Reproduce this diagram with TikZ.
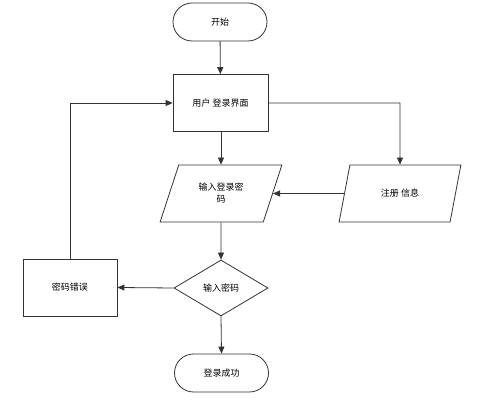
\documentclass[tikz,border=0pt]{standalone}
\usepackage{fontspec}
\newfontfamily\cjk{Noto Sans CJK SC}
\usetikzlibrary{shapes.geometric,arrows.meta}
\tikzset{
  base/.style={draw=black!80, line width=0.8pt, font=\cjk\fontsize{9}{12}\selectfont, align=center, inner sep=0pt},
  term/.style={base, rectangle, rounded corners=19pt, minimum width=94pt, minimum height=38pt},
  proc/.style={base, rectangle, minimum width=95pt, minimum height=57pt},
  io/.style={base, trapezium, trapezium left angle=64, trapezium right angle=116, trapezium stretches=true, minimum width=122pt, minimum height=57pt},
  dec/.style={base, diamond, minimum width=94pt, minimum height=56pt},
  conn/.style={draw=black!80, line width=0.8pt, -{Triangle[length=7pt,width=6pt]}},
  line/.style={draw=black!80, line width=0.8pt}
}
\begin{document}
\begin{tikzpicture}[x=1pt,y=-1pt]
\useasboundingbox[fill=white] (0,0) rectangle (491,403);
\node[term] (start) at (220,22) {开始};
\node[proc] (login) at (220.5,103) {用户 登录界面};
\node[io] (input) at (221,193.5) {输入登录密\\码};
\node[io] (reg) at (400,193.5) {注册 信息};
\node[dec] (check) at (221,288) {输入密码};
\node[proc, minimum width=94pt] (err) at (70,287.5) {密码错误};
\node[term] (ok) at (221.5,373) {登录成功};
\coordinate (c1) at (400,103);
\coordinate (c2) at (70,103);
\draw[conn] (start) -- (login);
\draw[conn] (login.south -| input.north) -- (input.north);
\draw[conn] (login.east) -- (c1) -- (reg.north);
\draw[conn] (reg.west) -- (input.east);
\draw[conn] (input.south) -- (check.north);
\draw[conn] (check.west) -- (err.east);
\draw[conn] (check.south) -- (ok.north);
\draw[conn] (err.north) -- (c2) -- (login.west);
\end{tikzpicture}
\end{document}
